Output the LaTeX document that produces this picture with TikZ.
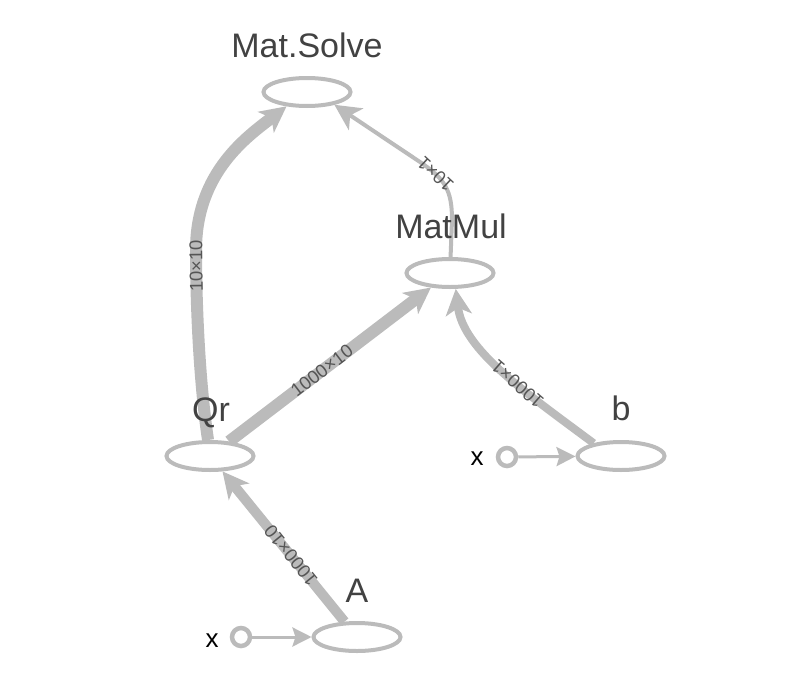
\documentclass[tikz,border=0pt]{standalone}
\usepackage{fontspec}
\setmainfont{Liberation Sans}
\usetikzlibrary{arrows.meta,shapes.geometric}
\definecolor{edgegray}{HTML}{BBBBBB}
\definecolor{titlegray}{HTML}{424242}
\definecolor{lblgray}{HTML}{555555}
\begin{document}
\begin{tikzpicture}[x=1pt,y=-1pt,
  op/.style={ellipse, draw=edgegray, line width=4pt, minimum width=87pt, minimum height=28pt, inner sep=0pt},
  title/.style={text=titlegray, font=\fontsize{34}{40}\selectfont, anchor=base, inner sep=0pt},
  src/.style={circle, draw=edgegray, line width=4.5pt, minimum size=18pt, inner sep=0pt},
  xlbl/.style={font=\fontsize{26}{30}\selectfont, text=black, anchor=base, inner sep=0pt},
  flow/.style={draw=edgegray, -{Stealth[length=26pt, width=26pt, inset=7pt]}},
  inarrow/.style={draw=edgegray, line width=3pt, -{Stealth[length=19pt, width=19pt, inset=3pt]}},
  elbl/.style={font=\fontsize{18.5}{20}\selectfont, text=lblgray, sloped, allow upside down, inner sep=1pt},
]
\useasboundingbox (0,0) rectangle (790,691);

% operation nodes
\node[op] (solve) at (307,92) {};
\node[op] (matmul) at (450,273) {};
\node[op] (qr) at (210,456) {};
\node[op] (b) at (621,456) {};
\node[op] (A) at (357,637) {};

% inputs
\node[src] (xb) at (507,457) {};
\node[src] (xa) at (241,637) {};

% edges
\draw[inarrow] (xb) -- (b);
\draw[inarrow] (xa) -- (A);

\draw[flow, line width=10pt] (A) -- node[elbl, pos=0.44] {1000×10} (qr);

\draw[flow, line width=12pt] (qr) -- node[elbl, pos=0.46] {1000×10} (matmul);

\draw[flow, line width=12pt] (qr.97) .. controls (199,380) and (196,300) .. (196,250)
  node[elbl, pos=0.9] {10×10}
  .. controls (196,172) and (248,136) .. (solve.215);

\draw[flow, line width=8pt] (b.155) .. controls (525,392) and (463,350) .. (matmul.-70)
  node[elbl, pos=0.4] {1000×1};

\draw[flow, line width=4pt] (matmul.88) -- (452,220) .. controls (452,190) and (445,179) .. (420,162)
  node[elbl, pos=0.75] {10×1}
  -- (solve.-25);

% titles (drawn over the connectors)
\node[title] (solveT) at (307,57) {Mat.Solve};
\node[title] (matmulT) at (451,238) {MatMul};
\node[title] (qrT) at (211,421) {Qr};
\node[title] (bT) at (621,420) {b};
\node[title] (AT) at (357,602) {A};
\node[xlbl] (xbT) at (477,465) {x};
\node[xlbl] (xaT) at (212,647) {x};
\end{tikzpicture}
\end{document}
